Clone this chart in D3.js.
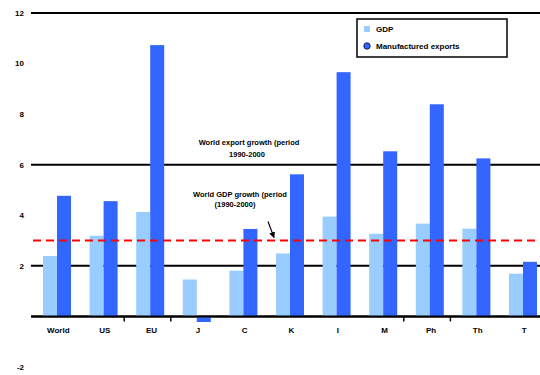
<!DOCTYPE html>
<html><head><meta charset="utf-8">
<script src="https://cdn.jsdelivr.net/npm/d3@7"></script>
<style>body{margin:0;background:#fff}svg{display:block;font-family:"Liberation Sans",Arial,sans-serif}</style>
</head><body><svg id="c" width="540" height="375"></svg>
<script>
const categories = ["World","US","EU","J","C","K","I","M","Ph","Th","T"];
const seriesNames = ["GDP","Manufactured exports"];
const gdp     = [2.39,3.19,4.13,1.46,1.81,2.49,3.95,3.27,3.67,3.47,1.69];
const exportsG= [4.77,4.56,10.73,-0.22,3.46,5.62,9.66,6.53,8.39,6.25,2.16];
const yTicks = [12,10,8,6,4,2,-2];
const refLines = [12,6,2,0];
const worldExport = 6, worldGDP = 3;
const tickAfter = ["US","EU","M","Ph"];

const svg = d3.select("#c");
const y = d3.scaleLinear().domain([-2,12]).range([367,13]);
const x = d3.scaleBand().domain(categories).range([31,543.6]);
const x1 = d3.scaleBand().domain(seriesNames).range([0,x.bandwidth()]).paddingOuter(0.664).align(0.645);
const colors = d3.scaleOrdinal().domain(seriesNames).range(["#99ccff","#3366ff"]);

// reference / grid lines
svg.append("g").selectAll("line").data(refLines).join("line")
  .attr("x1",31).attr("x2",540).attr("y1",d=>y(d)).attr("y2",d=>y(d))
  .attr("stroke","#000").attr("stroke-width",2);

// bars
const rows = categories.map((c,i)=>({c, vals:[gdp[i],exportsG[i]]}));
const g = svg.append("g").selectAll("g").data(rows).join("g")
  .attr("transform",d=>`translate(${x(d.c)},0)`);
g.selectAll("rect").data(d=>d.vals.map((v,j)=>({s:seriesNames[j],v}))).join("rect")
  .attr("x",d=>x1(d.s)).attr("width",x1.bandwidth())
  .attr("y",d=>y(Math.max(0,d.v))).attr("height",d=>Math.abs(y(d.v)-y(0)))
  .attr("fill",d=>colors(d.s));

// baseline on top
svg.append("line").attr("x1",31).attr("x2",540).attr("y1",y(0)).attr("y2",y(0))
  .attr("stroke","#000").attr("stroke-width",2);
svg.append("g").selectAll("line").data(tickAfter).join("line")
  .attr("x1",d=>x(d)+x.bandwidth()).attr("x2",d=>x(d)+x.bandwidth())
  .attr("y1",y(0)).attr("y2",y(0)+5).attr("stroke","#000").attr("stroke-width",1.5);

// red dashed world GDP line
svg.append("line").attr("x1",33).attr("x2",540).attr("y1",y(worldGDP)).attr("y2",y(worldGDP))
  .attr("stroke","#ff0000").attr("stroke-width",2).attr("stroke-dasharray","8,5");

// y labels
svg.append("g").selectAll("text").data(yTicks).join("text")
  .attr("x",24).attr("y",d=>y(d)).attr("dy","0.35em").attr("text-anchor","end")
  .attr("font-size",8).attr("font-weight","bold").text(d=>d);

// x labels
svg.append("g").selectAll("text").data(categories).join("text")
  .attr("x",d=>x(d)+x.bandwidth()/2+4).attr("y",y(0)+17).attr("text-anchor","middle")
  .attr("font-size",8).attr("font-weight","bold").text(d=>d);

// annotations
const ann = svg.append("g").attr("font-size",7.5).attr("font-weight","bold").attr("text-anchor","middle");
ann.append("text").attr("x",249).attr("y",y(worldExport)-20).text("World export growth (period");
ann.append("text").attr("x",247).attr("y",y(worldExport)-8).text("1990-2000");
ann.append("text").attr("x",240).attr("y",y(worldGDP)-44).text("World GDP growth (period");
ann.append("text").attr("x",235).attr("y",y(worldGDP)-34).text("(1990-2000)");
svg.append("defs").append("marker").attr("id","ah").attr("viewBox","0 0 10 10")
  .attr("refX",9).attr("refY",5).attr("markerWidth",5).attr("markerHeight",5).attr("orient","auto")
  .append("path").attr("d","M0,0L10,5L0,10z").attr("fill","#000");
svg.append("line").attr("x1",268).attr("y1",y(worldGDP)-19).attr("x2",274).attr("y2",y(worldGDP)-3)
  .attr("stroke","#000").attr("stroke-width",1.2).attr("marker-end","url(#ah)");

// legend
const lg = svg.append("g");
lg.append("rect").attr("x",357).attr("y",19).attr("width",150).attr("height",38)
  .attr("fill","#fff").attr("stroke","#000").attr("stroke-width",1.5);
lg.append("rect").attr("x",364).attr("y",26).attr("width",6).attr("height",6).attr("fill",colors(seriesNames[0]));
lg.append("text").attr("x",376).attr("y",32).attr("font-size",8).attr("font-weight","bold").text(seriesNames[0]);
lg.append("circle").attr("cx",367).attr("cy",46).attr("r",3.2).attr("fill",colors(seriesNames[1])).attr("stroke","#003").attr("stroke-width",0.8);
lg.append("text").attr("x",376).attr("y",49).attr("font-size",8).attr("font-weight","bold").text(seriesNames[1]);
</script></body></html>
